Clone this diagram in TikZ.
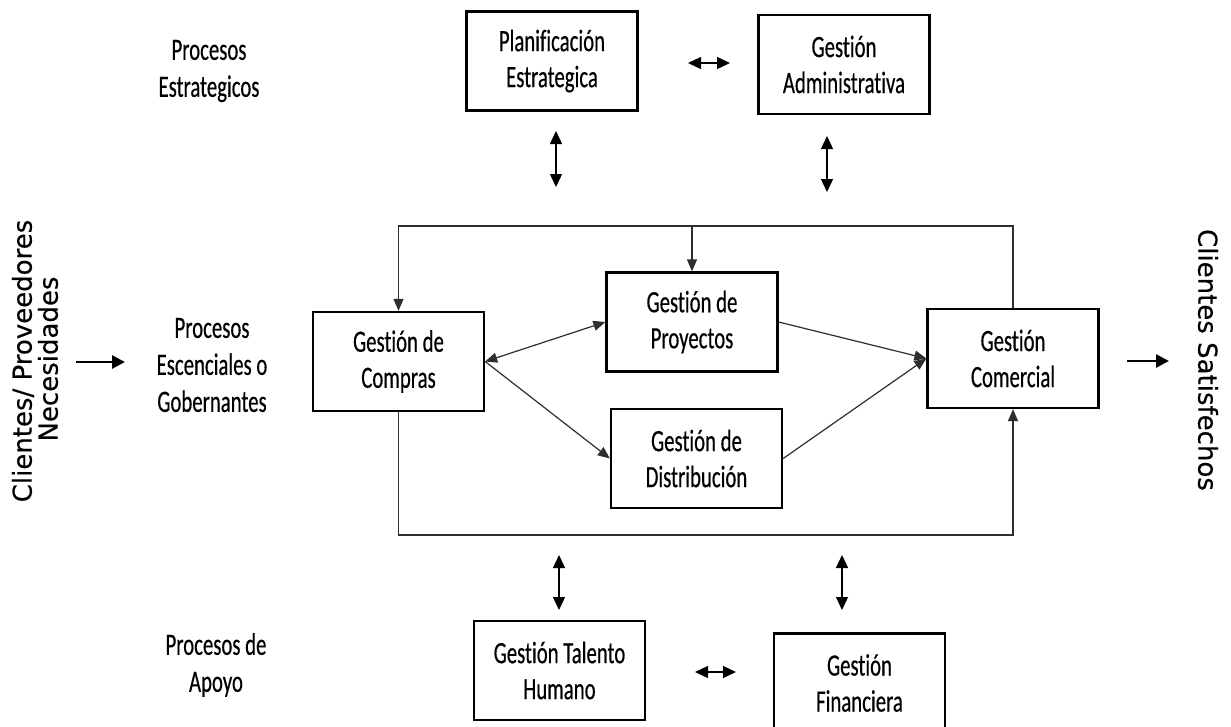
\documentclass[tikz,border=0pt]{standalone}
\usepackage{fontspec}
\usetikzlibrary{arrows.meta}
\newfontfamily\boxfont[FakeStretch=0.67,FakeBold=0.4,Ligatures=NoCommon]{Carlito}
\newfontfamily\sidefont[FakeBold=0.3]{DejaVu Sans}
\definecolor{linegray}{HTML}{2E2E2E}
\tikzset{
  procbox/.style={draw=black, line width=2.3pt, minimum width=171pt, minimum height=99pt,
    align=center, inner sep=0pt, text=black, font=\boxfont\fontsize{31}{36}\selectfont},
  lbl/.style={align=center, inner sep=0pt, text=black, font=\boxfont\fontsize{31}{37}\selectfont},
  side/.style={inner sep=0pt, text=black, font=\sidefont\fontsize{26}{30}\selectfont},
  conn/.style={draw=linegray, line width=1.2pt},
  tipend/.style={-{Triangle[length=12pt,width=10pt]}},
  tipboth/.style={{Triangle[length=12pt,width=10pt]}-{Triangle[length=12pt,width=10pt]}},
  dbl/.style={draw=black, line width=1.3pt, {Triangle[length=13pt,width=12pt]}-{Triangle[length=13pt,width=12pt]}},
  flow/.style={draw=black, line width=2.7pt, -{Triangle[length=13pt,width=13pt]}}
}
\begin{document}
\begin{tikzpicture}[x=1pt,y=-1pt]
\useasboundingbox (0,0) rectangle (1231,726);
\clip (0,0) rectangle (1231,726);

% process boxes
\node[procbox] (plan)    at (552,61)     {Planificación\\Estrategica};
\node[procbox] (admin)   at (844,64.5)   {Gestión\\Administrativa};
\node[procbox] (compras) at (398.5,361.5){Gestión de\\Compras};
\node[procbox] (proy)    at (692,322)    {Gestión de\\Proyectos};
\node[procbox] (comer)   at (1013,358.5) {Gestión\\Comercial};
\node[procbox] (dist)    at (696.5,458.5){Gestión de\\Distribución};
\node[procbox] (talento) at (559.5,670.5){Gestión Talento\\Humano};
\node[procbox] (finan)   at (859.5,683)  {Gestión\\Financiera};

% row labels
\node[lbl] (estr)  at (209,71)  {Procesos\\Estrategicos};
\node[lbl] (esen)  at (212,365) {Procesos\\Escenciales o\\Gobernantes};
\node[lbl] (apoyo) at (216,665) {Procesos de\\Apoyo};

% side captions
\node[side, rotate=90]  (cli) at (23,361)   {Clientes/ Proveedores};
\node[side, rotate=90]  (nec) at (48,359)   {Necesidades};
\node[side, rotate=-90] (sat) at (1208,360) {Clientes Satisfechos};

% input and output arrows
\coordinate (inA) at (76,362);   \coordinate (inB) at (125,362);
\coordinate (outA) at (1127,361); \coordinate (outB) at (1169,361);
\draw[flow] (inA) -- (inB);
\draw[flow] (outA) -- (outB);

% short two-way arrows between levels
\coordinate (s1a) at (688,63);  \coordinate (s1b) at (730,63);
\coordinate (v1a) at (556,131); \coordinate (v1b) at (556,187);
\coordinate (v2a) at (827,136); \coordinate (v2b) at (827,192);
\coordinate (v3a) at (559,555); \coordinate (v3b) at (559,610);
\coordinate (v4a) at (842,555); \coordinate (v4b) at (842,610);
\coordinate (s2a) at (695,672); \coordinate (s2b) at (736,672);
\draw[dbl] (s1a) -- (s1b);
\draw[dbl] (v1a) -- (v1b);
\draw[dbl] (v2a) -- (v2b);
\draw[dbl] (v3a) -- (v3b);
\draw[dbl] (v4a) -- (v4b);
\draw[dbl] (s2a) -- (s2b);

% feedback loops around the core processes
\coordinate (topY) at (0,226);
\coordinate (botY) at (0,535);
\draw[conn, tipend] (comer.north) -- (comer.north |- topY) -- (compras.north |- topY) -- (compras.north);
\draw[conn, tipend] (proy.north |- topY) -- (proy.north);
\draw[conn, tipend] (compras.south) -- (compras.south |- botY) -- (comer.south |- botY) -- (comer.south);

% core flow
\draw[conn, tipboth] (compras.east) -- (proy.west);
\draw[conn, tipend] (compras.east) -- (dist.west);
\draw[conn, tipend] (proy.east) -- (comer.west);
\draw[conn, tipend] (dist.east) -- (comer.west);
\end{tikzpicture}
\end{document}
